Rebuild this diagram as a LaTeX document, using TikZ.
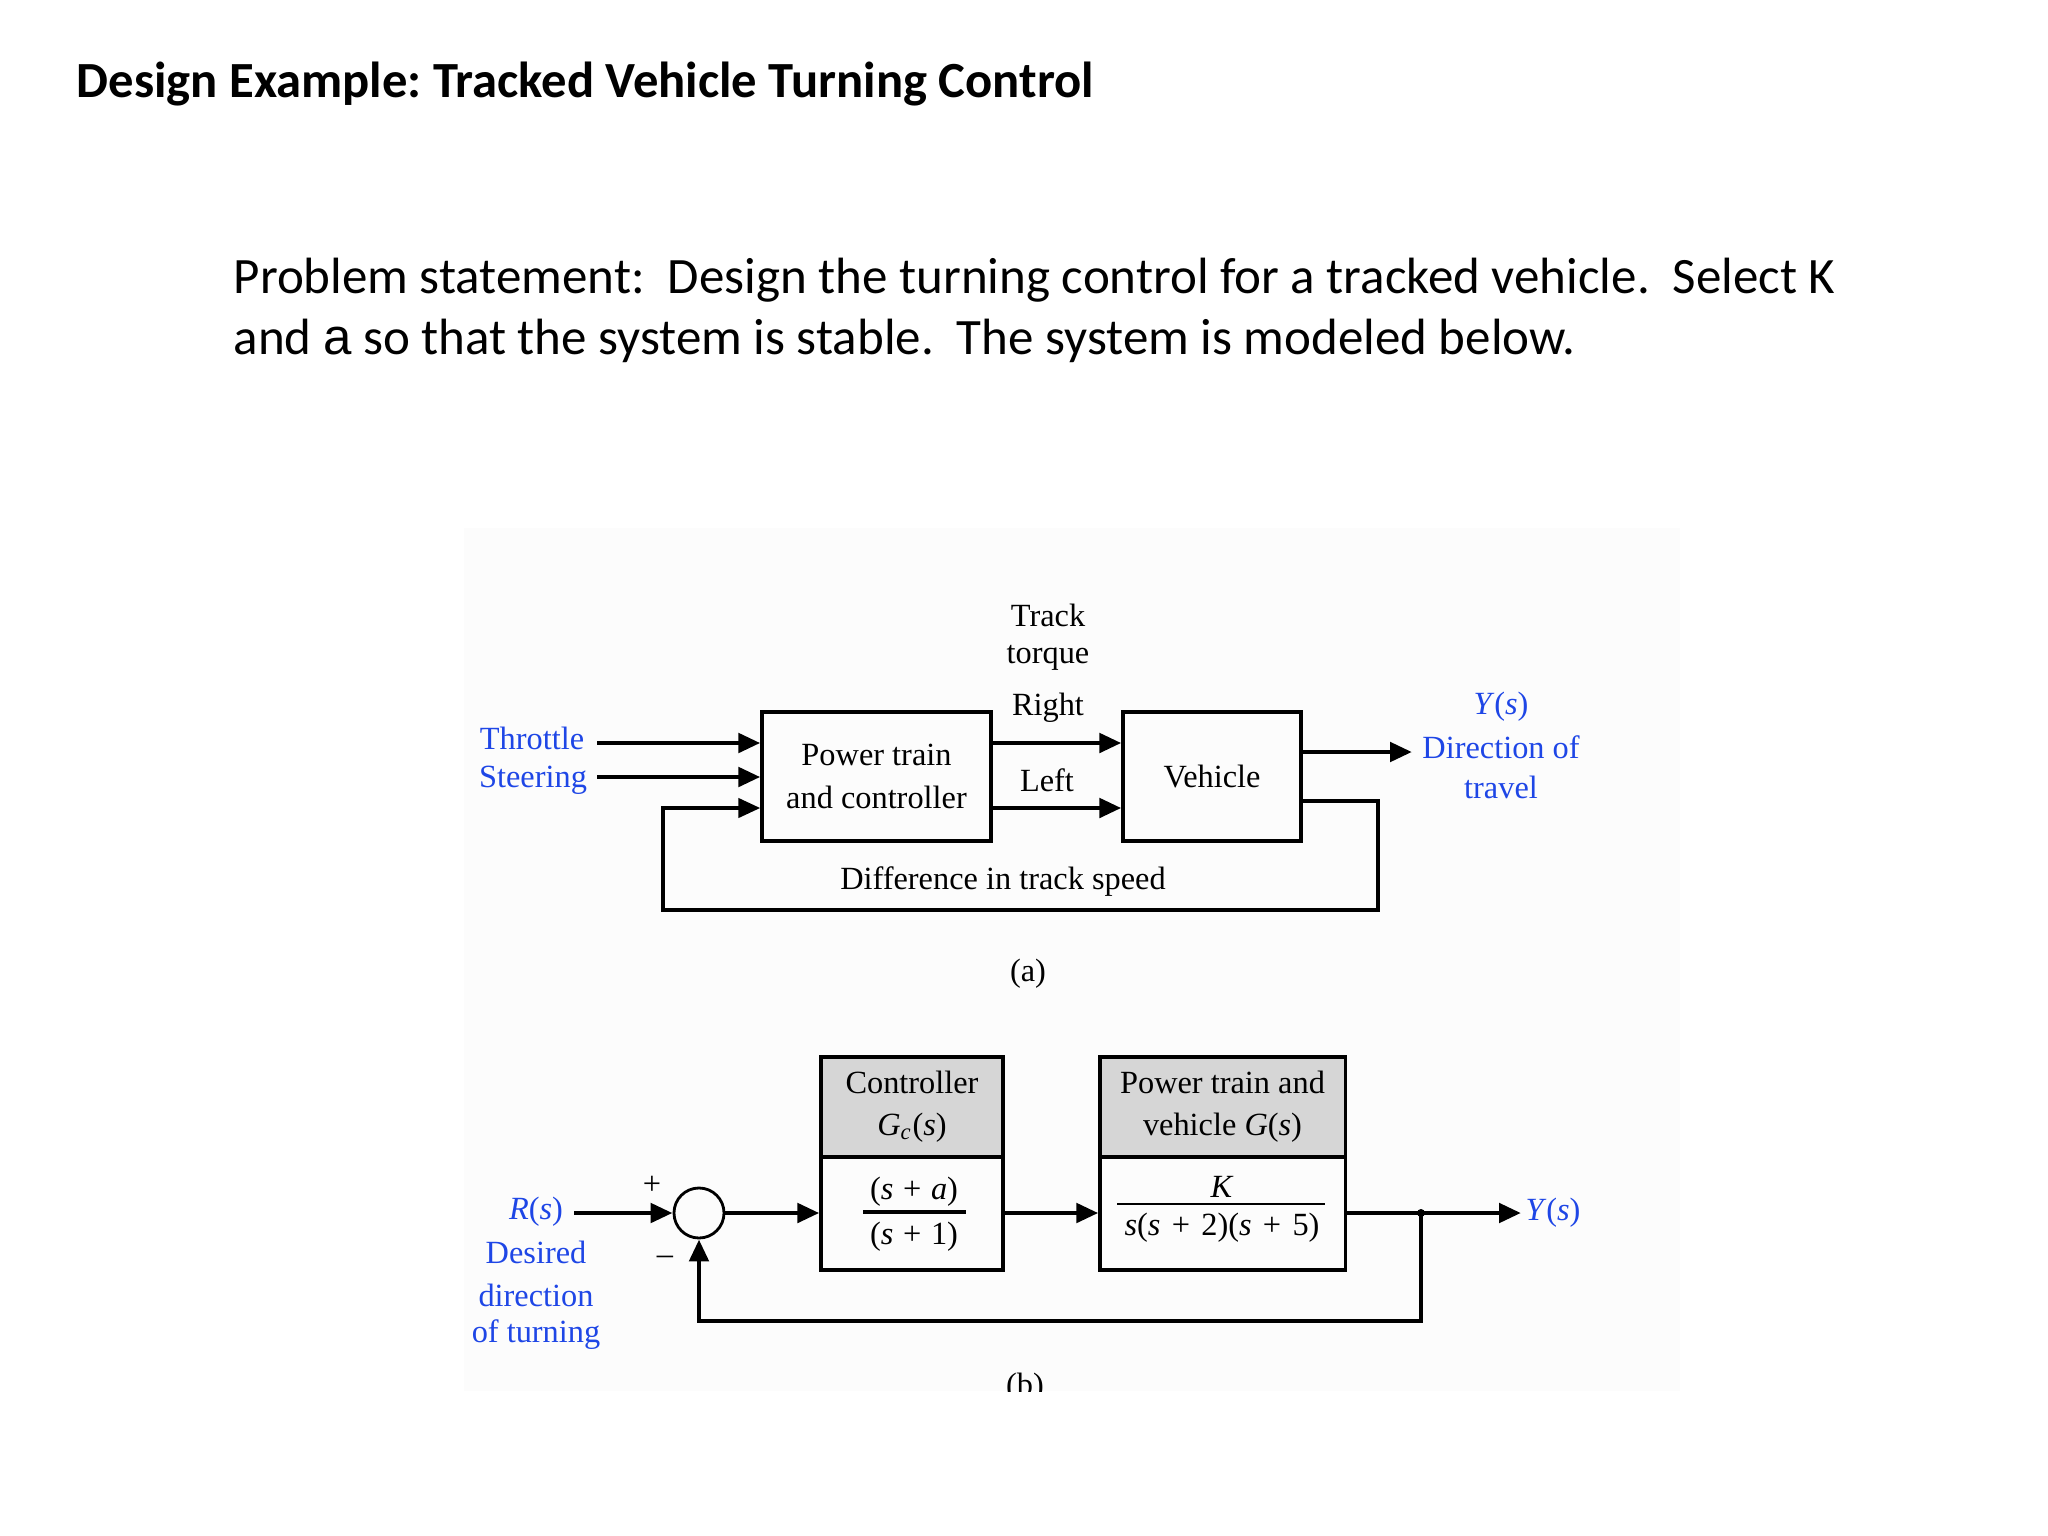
\documentclass[tikz,border=0pt]{standalone}
\usepackage{fontspec}
\setmainfont{Liberation Serif}
\newfontfamily\calib{Carlito}
\newfontfamily\arialish{Liberation Sans}
\usetikzlibrary{arrows.meta}
\definecolor{lblblue}{RGB}{30,70,230}
\definecolor{hdrgray}{RGB}{214,214,214}
\definecolor{insetbg}{RGB}{252,252,252}
\frenchspacing
\tikzset{
  dtext/.style={font=\fontsize{9.2pt}{12pt}\selectfont, inner sep=0pt},
  lbl/.style={dtext, text=lblblue, align=center},
  blk/.style={draw, line width=0.9pt, inner sep=0pt, align=center, font=\fontsize{9.2pt}{12pt}\selectfont},
  hdr/.style={blk, fill=hdrgray},
  tip/.style={-{Triangle[length=0.22cm,width=0.19cm]}},
  sig/.style={line width=1.4pt, tip},
  fbline/.style={line width=1.2pt},
  bigtxt/.style={anchor=base west, inner sep=0pt, font={\calib\fontsize{14.5pt}{17pt}\selectfont}}
}
\begin{document}
\begin{tikzpicture}[x=0.01cm, y=-0.01cm]
\useasboundingbox (0,0) rectangle (2048,1536);
\fill[white] (0,0) rectangle (2048,1536);

% heading and statement
\node[anchor=base west, inner sep=0pt, font={\calib\bfseries\fontsize{14.4pt}{18pt}\selectfont}] (title) at (76,97) {Design Example: Tracked Vehicle Turning Control};
\node[bigtxt] (p1) at (233,293) {Problem statement:\ \ Design the turning control for a tracked vehicle.\ \ Select K};
\node[bigtxt] (p2) at (233,354) {and {\arialish a} so that the system is stable.\ \ The system is modeled below.};

% inset background
\fill[insetbg] (464,528) rectangle (1680,1391);

% ---------------- part (a)
\node[blk, minimum width=2.29cm, minimum height=1.29cm] (ptc) at (876.5,776.5) {Power train\\and controller};
\node[blk, minimum width=1.78cm, minimum height=1.29cm] (veh) at (1212,776.5) {Vehicle};

\coordinate (thr) at (597,743);
\coordinate (ste) at (597,777);
\coordinate (yR) at (0,743);
\coordinate (yL) at (0,808);
\coordinate (outA) at (1412,752);
\coordinate (fbR) at (1378,801);
\coordinate (fbBL) at (663,910);

\draw[sig] (thr) -- (thr -| ptc.west);
\draw[sig] (ste) -- (ste -| ptc.west);
\draw[sig] (ptc.east |- yR) -- (veh.west |- yR);
\draw[sig] (ptc.east |- yL) -- (veh.west |- yL);
\draw[sig] (veh.east |- outA) -- (outA);
\draw[fbline, tip] (veh.east |- fbR) -- (fbR) -- (fbR |- fbBL) -- (fbBL) -- (fbBL |- yL) -- (ptc.west |- yL);

\node[lbl] (thrl) at (532,738) {Throttle};
\node[lbl] (stel) at (533,780) {Steering};
\node[dtext] (trk) at (1048,615) {Track};
\node[dtext] (trq) at (1048,658) {torque};
\node[dtext] (rgt) at (1048,708) {Right};
\node[dtext] (lft) at (1047,780) {Left};
\node[dtext] (diff) at (1003,882) {Difference in track speed};
\node[lbl] (ysa) at (1501,707) {\textit{Y}(\textit{s})};
\node[lbl] (dir1) at (1501,747) {Direction of};
\node[lbl] (dir2) at (1501,787) {travel};
\node[dtext] (capa) at (1028,974) {(a)};

% ---------------- part (b)
\node[draw, circle, minimum size=0.5cm, line width=0.8pt, inner sep=0pt] (sum) at (699,1213) {};
\node[hdr, minimum width=1.82cm, minimum height=1.0cm] (ch) at (912,1107) {Controller\\\textit{G}\textsubscript{\textit{c}}(\textit{s})};
\node[blk, minimum width=1.82cm, minimum height=1.13cm] (cb) at (912,1213.5) {};
\node[hdr, minimum width=2.45cm, minimum height=1.0cm] (ph) at (1222.5,1107) {Power train and\\vehicle \textit{G}(\textit{s})};
\node[blk, minimum width=2.45cm, minimum height=1.13cm] (pb) at (1222.5,1213.5) {};

\node[dtext] (cnum) at (914,1192) {(\textit{s}\hspace{0.3em}+\hspace{0.3em}\textit{a})};
\node[dtext] (cden) at (914,1237) {(\textit{s}\hspace{0.3em}+\hspace{0.3em}1)};
\draw[line width=0.9pt] (863,1212) -- (966,1212);
\node[dtext] (pnum) at (1222,1187) {\textit{K}};
\node[dtext] (pden) at (1222,1228) {\textit{s}(\textit{s}\hspace{0.35em}+\hspace{0.35em}2)(\textit{s}\hspace{0.35em}+\hspace{0.35em}5)};
\draw[line width=0.6pt] (1117,1204) -- (1325,1204);

\coordinate (rin) at (574,1213);
\coordinate (br) at (1421,1213);
\coordinate (yout) at (1521,1213);
\coordinate (fbb) at (1421,1321);

\draw[sig] (rin) -- (sum.west);
\draw[sig] (sum.east) -- (sum.east -| cb.west);
\draw[sig] (cb.east |- sum.east) -- (pb.west |- sum.east);
\draw[line width=1.4pt] (pb.east |- br) -- (br);
\draw[sig] (br) -- (yout);
\fill (br) circle (4);
\draw[sig] (br) -- (fbb) -- (fbb -| sum.south) -- (sum.south);

\node[dtext] (plus) at (652,1185) {+};
\node[dtext] (minus) at (665,1260) {\textendash};
\node[lbl] (rs) at (536,1212) {\textit{R}(\textit{s})};
\node[lbl] (des1) at (536,1252) {Desired};
\node[lbl] (des2) at (536,1295) {direction};
\node[lbl] (des3) at (536,1335) {of turning};
\node[lbl] (ysb) at (1553,1213) {\textit{Y}(\textit{s})};

\begin{scope}
\clip (464,528) rectangle (1680,1391);
\node[dtext] (capb) at (1025,1388) {(b)};
\end{scope}
\end{tikzpicture}
\end{document}
